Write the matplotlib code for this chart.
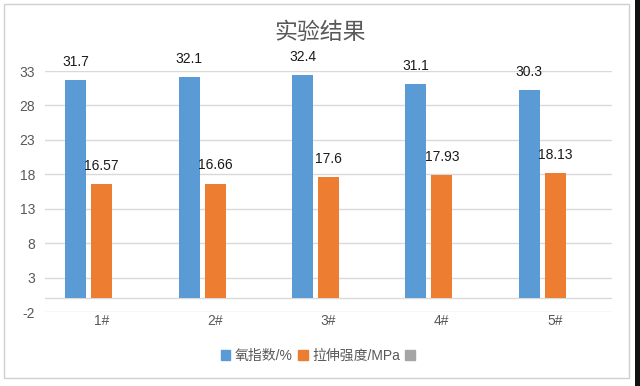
import matplotlib

matplotlib.use("Agg")
import matplotlib.pyplot as plt  # noqa: E402
import numpy as np  # noqa: E402
from matplotlib.patches import Patch, Rectangle  # noqa: E402

plt.rcParams["font.family"] = ["Liberation Sans", "Noto Sans CJK SC", "DejaVu Sans"]
plt.rcParams["axes.unicode_minus"] = False

categories = ["1#", "2#", "3#", "4#", "5#"]
oxygen_index = [31.7, 32.1, 32.4, 31.1, 30.3]
tensile = [16.57, 16.66, 17.6, 17.93, 18.13]
oxygen_labels = ["31.7", "32.1", "32.4", "31.1", "30.3"]
tensile_labels = ["16.57", "16.66", "17.6", "17.93", "18.13"]
series_names = ["氧指数/%", "拉伸强度/MPa", ""]
yticks = [-2, 3, 8, 13, 18, 23, 28, 33]

BLUE, ORANGE, GRAY = "#5b9bd5", "#ed7d31", "#a5a5a5"
TXT = "#595959"

fig = plt.figure(figsize=(6.4, 3.86), dpi=100)
# outer chart border plus the dark strip at the right edge of the screenshot
fig.patches.append(Rectangle((0.00625, 0.0207), 0.977, 0.969, transform=fig.transFigure,
                             fill=False, ec="#d0d0d0", lw=1))
fig.patches.append(Rectangle((0.992, 0), 0.008, 1, transform=fig.transFigure,
                             color="#111111", lw=0))
ax = fig.add_axes([0.0703, 0.1917, 0.8857, 0.6243])

x = np.arange(len(categories))
w, off = 0.185, 0.228
ax.bar(x - off, oxygen_index, w, color=BLUE, zorder=3)
ax.bar(x, tensile, w, color=ORANGE, zorder=3)

for xi, v, s in zip(x, oxygen_index, oxygen_labels):
    ax.annotate(s, (xi - off, v), xytext=(0, 13), textcoords="offset points",
                ha="center", va="center", fontsize=10, color="#1a1a1a")
for xi, v, s in zip(x, tensile, tensile_labels):
    ax.annotate(s, (xi, v), xytext=(0, 13), textcoords="offset points",
                ha="center", va="center", fontsize=10, color="#1a1a1a")

ax.set_xlim(-0.5, len(categories) - 0.5)
ax.set_ylim(-2, 33)
ax.set_yticks(yticks)
ax.set_xticks(x)
ax.set_xticklabels(categories)
ax.tick_params(length=0, labelsize=10, colors=TXT)
ax.tick_params(axis="x", pad=1.5)
ax.tick_params(axis="y", pad=7)
ax.grid(axis="y", color="#d9d9d9", lw=1, zorder=0)
ax.axhline(0, color="#d9d9d9", lw=1, zorder=2)
for sp in ax.spines.values():
    sp.set_visible(False)

fig.text(0.5, 0.917, "实验结果", ha="center", va="center", fontsize=16.5, color=TXT,
         family=["Noto Sans CJK SC", "DejaVu Sans"])

handles = [Patch(color=c) for c in (BLUE, ORANGE, GRAY)]
fig.legend(handles, series_names, loc="center", bbox_to_anchor=(0.5, 0.078), ncol=3,
           frameon=False, fontsize=10, labelcolor=TXT, handlelength=0.7,
           handleheight=0.7, handletextpad=0.3, columnspacing=0.4)

fig.savefig("out.png", dpi=100)
